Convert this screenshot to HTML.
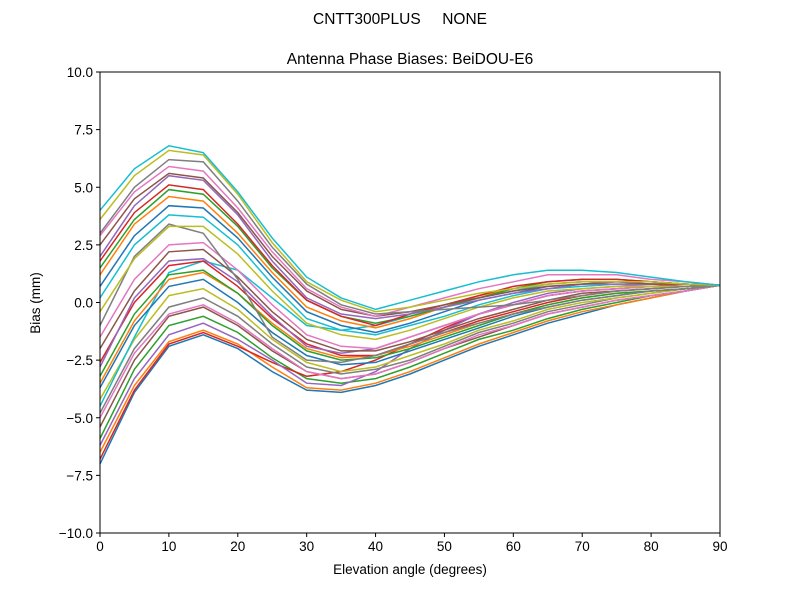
<!DOCTYPE html>
<html><head><meta charset="utf-8"><style>
body{margin:0;background:#fff}
svg{display:block;font-family:"Liberation Sans","DejaVu Sans",sans-serif}
</style></head><body>
<svg id="chart" width="800" height="600" viewBox="0 0 800 600">
<rect width="800" height="600" fill="#fff"/>
<text x="400" y="24" font-size="15.5" text-anchor="middle" style="white-space:pre" xml:space="preserve">CNTT300PLUS     NONE</text>
<text x="410" y="64" font-size="15.5" text-anchor="middle">Antenna Phase Biases: BeiDOU-E6</text>
<g id="lines"></g>
<g id="axes"></g>
<text x="410" y="574" font-size="13.5" text-anchor="middle">Elevation angle (degrees)</text>
<text x="0" y="0" font-size="13.5" text-anchor="middle" transform="translate(40,303) rotate(-90)">Bias (mm)</text>
</svg>
<script>
const elevations=[0,5,10,15,20,25,30,35,40,45,50,55,60,65,70,75,80,85,90];
const xTicks=[0,10,20,30,40,50,60,70,80,90];
const yTicks=[-10,-7.5,-5,-2.5,0,2.5,5,7.5,10];
const yTickLabels=["\u221210.0","\u22127.5","\u22125.0","\u22122.5","0.0","2.5","5.0","7.5","10.0"];
const s0=[4.0,5.8,6.8,6.5,4.8,2.8,1.1,0.2,-0.3,0.1,0.5,0.9,1.2,1.4,1.4,1.3,1.1,0.9,0.75];
const s1=[2.9,4.8,5.9,5.7,4.1,2.2,0.6,-0.2,-0.6,-0.2,0.2,0.6,0.9,1.2,1.2,1.2,1.0,0.9,0.75];
const s2=[1.8,3.9,5.1,4.9,3.4,1.6,0.1,-0.6,-1.0,-0.5,-0.1,0.3,0.7,0.9,1.0,1.0,0.9,0.8,0.75];
const s3=[0.7,2.9,4.2,4.1,2.8,1.1,-0.4,-1.0,-1.3,-0.9,-0.4,0.1,0.4,0.7,0.8,0.9,0.8,0.8,0.75];
const s4=[-0.4,1.9,3.3,3.3,2.1,0.5,-0.9,-1.4,-1.6,-1.2,-0.7,-0.2,0.2,0.5,0.6,0.7,0.7,0.7,0.75];
const s5=[-1.5,1.0,2.5,2.6,1.4,-0.1,-1.4,-1.9,-2.0,-1.5,-1.0,-0.5,-0.1,0.3,0.5,0.6,0.7,0.7,0.75];
const s6=[-2.6,0,1.6,1.8,0.7,-0.7,-1.8,-2.3,-2.3,-1.8,-1.3,-0.8,-0.4,0,0.3,0.5,0.6,0.7,0.75];
const s7=[-3.7,-1.0,0.7,1.0,0,-1.3,-2.3,-2.7,-2.6,-2.1,-1.6,-1.1,-0.6,-0.2,0.1,0.3,0.5,0.6,0.75];
const s8=[-4.8,-2.0,-0.2,0.2,-0.6,-1.8,-2.8,-3.1,-2.9,-2.5,-1.9,-1.3,-0.9,-0.4,-0.1,0.2,0.4,0.6,0.75];
const s9=[-5.9,-2.9,-1.0,-0.6,-1.3,-2.4,-3.3,-3.5,-3.3,-2.8,-2.2,-1.6,-1.2,-0.7,-0.3,0,0.3,0.5,0.75];
const s10=[-7.0,-3.9,-1.9,-1.4,-2.0,-3.0,-3.8,-3.9,-3.6,-3.1,-2.5,-1.9,-1.4,-0.9,-0.5,-0.1,0.2,0.5,0.75];
const s11=[-1.0,2.0,3.4,3.0,1.0,-1.5,-2.5,-2.6,-2.3,-1.8,-1.3,-0.9,-0.5,-0.2,0.1,0.3,0.5,0.6,0.75];
const s12=[-4.5,-1.5,1.3,1.8,1.4,0.2,-1.0,-1.2,-1.0,-0.6,-0.2,0.2,0.5,0.8,0.9,0.9,0.9,0.8,0.75];
const s13=[3.0,5.0,6.2,6.1,4.4,2.4,0.8,-0.1,-0.5,-0.4,-0.3,-0.2,-0.1,0.1,0.3,0.5,0.6,0.7,0.75];
const s14=[-6.2,-3.3,-1.4,-0.9,-1.6,-2.5,-3.5,-3.6,-3.0,-2.0,-1.2,-0.5,0,0.4,0.6,0.7,0.8,0.8,0.75];
const s15=[1.2,3.4,4.6,4.4,3.0,1.3,-0.2,-0.8,-1.1,-0.7,-0.2,0.3,0.6,0.8,0.9,0.9,0.9,0.8,0.75];
const s16=[-3.2,-0.5,1.2,1.4,0.4,-1.0,-2.1,-2.5,-2.4,-2.0,-1.5,-1.0,-0.5,-0.1,0.2,0.4,0.5,0.6,0.75];
const s17=[-5.4,-2.5,-0.6,-0.2,-1.0,-2.1,-3.0,-3.3,-3.1,-2.6,-2.0,-1.5,-1.0,-0.5,-0.2,0.1,0.3,0.5,0.75];
const s18=[3.6,5.5,6.6,6.4,4.7,2.6,0.9,0.1,-0.4,-0.2,0.1,0.4,0.6,0.8,0.9,0.9,0.9,0.8,0.75];
const s19=[2.5,4.5,5.6,5.4,3.9,2.0,0.5,-0.3,-0.6,-0.4,-0.1,0.2,0.5,0.7,0.8,0.9,0.8,0.8,0.75];
const s20=[1.5,3.6,4.9,4.7,3.3,1.5,0.1,-0.6,-0.9,-0.6,-0.2,0.2,0.6,0.9,1.0,1.0,0.9,0.8,0.75];
const s21=[0.2,2.5,3.8,3.7,2.5,0.8,-0.7,-1.2,-1.4,-1.0,-0.6,-0.1,0.3,0.6,0.7,0.8,0.8,0.8,0.75];
const s22=[-2.0,0.5,2.2,2.3,1.1,-0.4,-1.6,-2.1,-2.1,-1.7,-1.2,-0.7,-0.3,0.1,0.4,0.5,0.6,0.7,0.75];
const s23=[-3.5,-0.8,1.0,1.3,0.4,-0.9,-2.0,-2.4,-2.3,-1.9,-1.4,-0.9,-0.5,-0.1,0.2,0.4,0.5,0.6,0.75];
const s24=[-4.2,-1.6,0.3,0.6,-0.3,-1.6,-2.6,-3.0,-2.8,-2.3,-1.8,-1.2,-0.8,-0.3,0,0.2,0.4,0.6,0.75];
const s25=[-5.0,-2.2,-0.5,-0.1,-0.9,-2.0,-3.0,-3.3,-3.1,-2.6,-2.0,-1.4,-1.0,-0.5,-0.2,0.1,0.3,0.5,0.75];
const s26=[-6.5,-3.6,-1.7,-1.2,-1.8,-2.8,-3.7,-3.8,-3.5,-3.0,-2.4,-1.8,-1.3,-0.8,-0.4,-0.1,0.2,0.5,0.75];
const s27=[-6.8,-3.8,-1.8,-1.3,-1.9,-2.6,-3.2,-3.0,-2.5,-1.8,-1.1,-0.5,-0.1,0.3,0.5,0.6,0.7,0.8,0.75];
const s28=[2.0,4.2,5.5,5.3,3.8,1.8,0.2,-0.5,-0.7,-0.5,-0.2,0.1,0.4,0.6,0.8,0.8,0.8,0.8,0.75];
const s29=[-2.8,0.2,1.8,1.9,0.9,-0.6,-1.9,-2.2,-2.0,-1.5,-1.0,-0.5,-0.1,0.3,0.5,0.6,0.7,0.7,0.75];
const series=[s10,s26,s9,s27,s14,s17,s25,s8,s24,s12,s7,s23,s16,s6,s29,s22,s5,s11,s4,s21,s3,s15,s20,s2,s28,s19,s1,s13,s18,s0];
const colors=["#1f77b4","#ff7f0e","#2ca02c","#d62728","#9467bd","#8c564b","#e377c2","#7f7f7f","#bcbd22","#17becf"];
const X0=100,X1=720,Y0=533,Y1=72;
const xs=v=>X0+(v-0)/(90-0)*(X1-X0);
const ys=v=>Y0-(v+10)/20*(Y0-Y1);
const NS="http://www.w3.org/2000/svg";
const lg=document.getElementById("lines");
series.forEach((s,i)=>{
  const p=document.createElementNS(NS,"polyline");
  p.setAttribute("points",s.map((v,j)=>xs(elevations[j]).toFixed(1)+","+ys(v).toFixed(1)).join(" "));
  p.setAttribute("fill","none");
  p.setAttribute("stroke",colors[i%10]);
  p.setAttribute("stroke-width","1.5");
  
  
  lg.appendChild(p);
});
const ax=document.getElementById("axes");
const fr=document.createElementNS(NS,"rect");
fr.setAttribute("x",X0);fr.setAttribute("y",Y1);fr.setAttribute("width",X1-X0);fr.setAttribute("height",Y0-Y1);
fr.setAttribute("fill","none");fr.setAttribute("stroke","#000");fr.setAttribute("stroke-width","1");


ax.appendChild(fr);
xTicks.forEach(t=>{
  const l=document.createElementNS(NS,"line");
  l.setAttribute("x1",xs(t));l.setAttribute("x2",xs(t));l.setAttribute("y1",Y0);l.setAttribute("y2",Y0+4);l.setAttribute("stroke","#000");
  
  
  ax.appendChild(l);
  const tx=document.createElementNS(NS,"text");
  tx.setAttribute("x",xs(t));tx.setAttribute("y",Y0+18);tx.setAttribute("font-size","13.5");tx.setAttribute("text-anchor","middle");
  tx.textContent=t;
  
  
  ax.appendChild(tx);
});
yTicks.forEach((t,i)=>{
  const l=document.createElementNS(NS,"line");
  l.setAttribute("x1",X0-4);l.setAttribute("x2",X0);l.setAttribute("y1",ys(t));l.setAttribute("y2",ys(t));l.setAttribute("stroke","#000");
  
  
  ax.appendChild(l);
  const tx=document.createElementNS(NS,"text");
  tx.setAttribute("x",X0-7);tx.setAttribute("y",ys(t)+5);tx.setAttribute("font-size","13.5");tx.setAttribute("text-anchor","end");
  tx.textContent=yTickLabels[i];
  
  
  ax.appendChild(tx);
});
</script>
</body></html>
